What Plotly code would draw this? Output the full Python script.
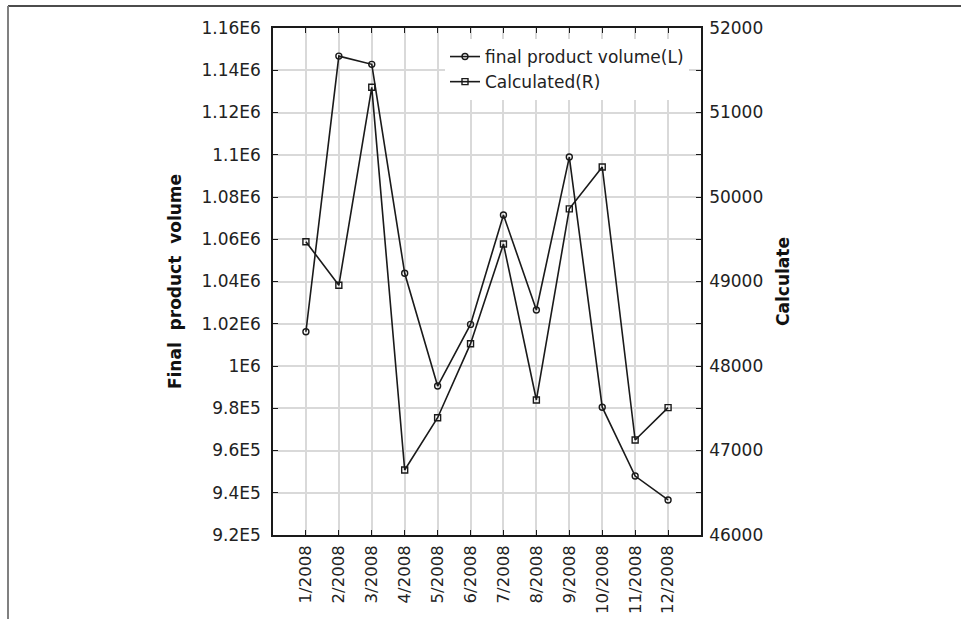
import plotly.graph_objects as go

months = ["1/2008", "2/2008", "3/2008", "4/2008", "5/2008", "6/2008",
          "7/2008", "8/2008", "9/2008", "10/2008", "11/2008", "12/2008"]
final_volume = [1016200, 1146700, 1142800, 1043900, 990500, 1019700,
                1071500, 1026500, 1098900, 980500, 947900, 936600]
calculated = [49471, 48955, 51298, 46769, 47388, 48264,
              49444, 47598, 49860, 50355, 47124, 47507]

left_tickvals = [920000, 940000, 960000, 980000, 1000000, 1020000, 1040000,
                 1060000, 1080000, 1100000, 1120000, 1140000, 1160000]
left_ticktext = ["9.2E5", "9.4E5", "9.6E5", "9.8E5", "1E6", "1.02E6", "1.04E6",
                 "1.06E6", "1.08E6", "1.1E6", "1.12E6", "1.14E6", "1.16E6"]
right_tickvals = [46000, 47000, 48000, 49000, 50000, 51000, 52000]
right_ticktext = ["46000", "47000", "48000", "49000", "50000", "51000", "52000"]

W, H = 961, 619
L, R, T, B = 273, 260, 28, 84
pw, ph = W - L - R, H - T - B

FONT = "DejaVu Sans"
INK = "#1a1a1a"

fig = go.Figure()
fig.add_trace(go.Scatter(
    x=months, y=final_volume, name="final product volume(L)", mode="lines+markers",
    line=dict(color=INK, width=1.6),
    marker=dict(symbol="circle-open", size=6, color=INK, line=dict(width=1.4)),
    yaxis="y"))
fig.add_trace(go.Scatter(
    x=months, y=calculated, name="Calculated(R)", mode="lines+markers",
    line=dict(color=INK, width=1.6),
    marker=dict(symbol="square-open", size=6, color=INK, line=dict(width=1.4)),
    yaxis="y2"))

axis_common = dict(showline=True, linecolor=INK, linewidth=1.5,
                   ticks="inside", ticklen=5, tickcolor=INK, tickwidth=1.2,
                   tickfont=dict(family=FONT, size=17, color="#222"),
                   zeroline=False)

fig.update_layout(
    width=W, height=H,
    margin=dict(l=L, r=R, t=T, b=B, autoexpand=False),
    paper_bgcolor="white", plot_bgcolor="white",
    font=dict(family=FONT, size=17, color="#222"),
    showlegend=True,
    legend=dict(x=1 - 12 / pw, xanchor="right", y=1 - 11 / ph, yanchor="top",
                bgcolor="white", borderwidth=0,
                font=dict(family=FONT, size=17, color="#222"),
                tracegroupgap=0, itemwidth=30),
    xaxis=dict(**{**axis_common, "tickfont": dict(family=FONT, size=16.5, color="#222")},
               type="category", range=[-1, 12],
               tickangle=-90, mirror="ticks", showgrid=True,
               gridcolor="#d9d9d9", gridwidth=1.5, ticklabelstandoff=2),
    yaxis=dict(**axis_common, range=[920000, 1160000], tickvals=left_tickvals,
               ticktext=left_ticktext, mirror="ticks", showgrid=True,
               gridcolor="#d9d9d9", gridwidth=1.5, ticklabelstandoff=7,
               title=dict(text="Final  product  volume",
                          font=dict(family=FONT, size=17, color="#111",
                                    weight="bold"),
                          standoff=15)),
    yaxis2=dict(**axis_common, range=[46000, 52000], tickvals=right_tickvals,
                ticktext=right_ticktext,
                overlaying="y", side="right", showgrid=False,
                ticklabelstandoff=3,
                title=dict(text="Calculate",
                           font=dict(family=FONT, size=17, color="#111",
                                     weight="bold"),
                           standoff=15)),
)

# outer frame lines (top black, left gray)
x_left = (8 - L) / pw
x_right = (W - L) / pw
y_top = 1 + (T - 6) / ph
y_bot = -(B) / ph
fig.add_shape(type="line", xref="paper", yref="paper", x0=x_left, x1=x_right,
              y0=y_top, y1=y_top, line=dict(color="#111", width=1.6))
fig.add_shape(type="line", xref="paper", yref="paper", x0=x_left, x1=x_left,
              y0=y_top, y1=y_bot, line=dict(color="#808080", width=2))

fig.write_html("out.html", config={"displayModeBar": False},
               post_script="document.body.style.margin='0';")
